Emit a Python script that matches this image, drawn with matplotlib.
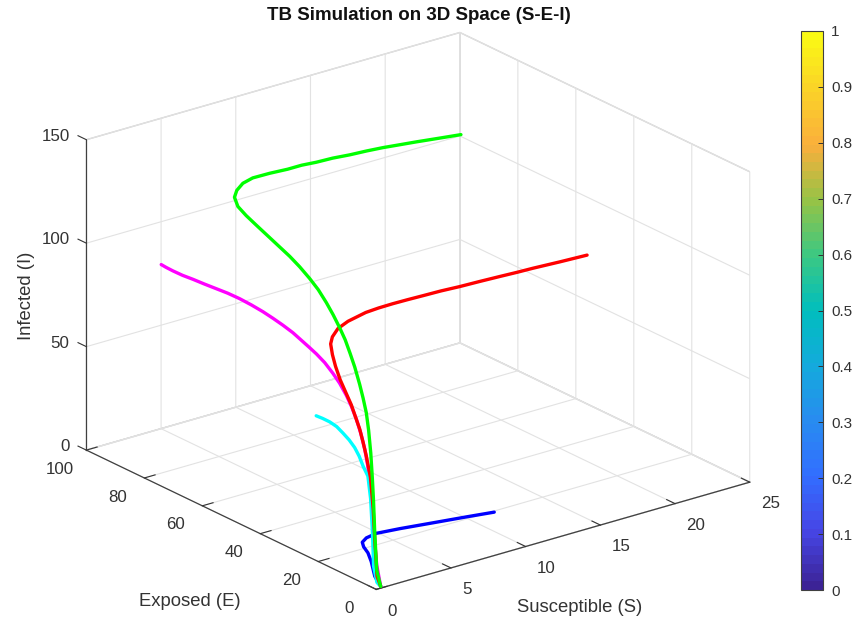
import matplotlib
matplotlib.use('Agg')
import matplotlib.pyplot as plt
from matplotlib.colors import LinearSegmentedColormap
from matplotlib.cm import ScalarMappable
from matplotlib.text import Text

plt.rcParams['font.family'] = ['Liberation Sans', 'DejaVu Sans']

S_green = [19.91,17.95,16.09,14.77,13.49,12.27,11.05,9.85,8.72,7.73,6.82,5.67,4.58,3.84,3.26,2.81,2.42,2.12,1.85,1.5,1.31,1.16,1.03,.97,.85,.8,.74,.68,.64,.62,.58,.56,.54,.52,.45,.4,.38,.29,.23,.3]
E_green = [73.4,70.9,69,68,67.2,66.6,66.1,65.8,65.6,65.6,65.7,66,66.2,65.8,64.9,63.4,60.2,55.8,50.9,43.5,36.6,32.4,28.3,25,21.6,19,16.4,14.2,12.3,10.6,8.7,7.4,6.2,5.3,4.2,3.4,2.9,2,1,0]
I_green = [129.1,133.1,136.5,138.5,140.3,141.6,142.6,143.7,144.2,144.8,144.7,144.9,144.8,144,142.4,141,139.5,138.7,137.9,136.3,133.6,131.7,129.1,126,122.3,118.3,113.8,109.6,104.4,99,92,86.2,80,72.2,62.1,50.6,40.3,25.2,8,.8]

S_red = [20.03,17.73,15.54,14.31,13.09,11.71,10.37,9.1,7.89,6.88,5.9,4.98,4.13,2.94,2.25,1.76,1.47,1.22,1.02,.83,.69,.6,.54,.49,.46,.42,.37,.32,.28,.25,.3]
E_red = [30.5,28,26,25.2,24.8,24.6,24.6,24.6,24.6,24.6,24.7,24.8,24.9,24.9,24.8,24.2,23.3,21.4,19.3,16.7,13.9,11.7,9.9,8.2,6.9,5.6,3.9,2.7,1.9,1,0]
I_red = [99.5,102.7,105.5,106.6,107.4,108,108.3,108.8,109,109.2,109.2,109,108.5,106.7,104.7,102.1,99.9,96.5,92.7,88.3,83.9,80.1,75.4,70.8,65.5,59.9,50.7,36.4,20.9,5.1,.8]

S_magenta = [4.97,4.37,3.79,3.21,2.74,2.34,1.96,1.65,1.33,1.15,.99,.82,.74,.63,.56,.53,.52,.51,.44,.44,.41,.4,.38,.36,.36,.34,.32,.26,.25,.3]
E_magenta = [99.8,95,89.7,83.4,77.4,71.3,65.3,59.8,54,49,44.2,39.9,36,32,28.2,25.7,23.3,20.4,17.2,14.9,12.4,10.6,8.8,7.2,5.8,4.7,3.7,2.4,1.1,0]
I_magenta = [79.5,82.6,85.7,89,92.1,94.7,97.3,99.5,101.4,102.1,102.4,102.5,101.9,101.2,99.6,98.4,97,94.8,91.9,88.7,84.5,80.4,75.5,69.9,63,56.1,47.1,28.7,10.3,.8]

S_cyan = [5.08,4.11,3.13,2.36,1.77,1.29,1,.76,.62,.47,.38,.31,.27,.24,.3]
E_cyan = [46.9,39.7,32.2,25.8,20.6,16,12.6,9.8,7.7,5.3,3.9,2.9,2.3,1,0]
I_cyan = [41.8,47.4,52.8,56.4,58,58.8,58,56.2,53,50.2,40.4,25,9.1,2.2,.8]

S_blue = [10.13,8.15,5.86,3.58,1.99,1.3,.91,.71,.55,.42,.31,.3]
E_blue = [11.5,10.8,10.6,10.3,10.2,10.1,9.5,8,5.7,3.9,2.1,0]
I_blue = [8.6,10.9,12.9,15,16.1,15.4,14.5,13.7,12.7,10,4.3,.8]

series = [(S_blue,E_blue,I_blue,'#0000ff'),(S_magenta,E_magenta,I_magenta,'#ff00ff'),
          (S_cyan,E_cyan,I_cyan,'#00ffff'),(S_red,E_red,I_red,'#ff0000'),(S_green,E_green,I_green,'#00ff00')]

x_ticks = [0,5,10,15,20,25]
y_ticks = [0,20,40,60,80,100]
z_ticks = [0,50,100,150]
cbar_ticks = [0,.1,.2,.3,.4,.5,.6,.7,.8,.9,1]
cbar_labels = ['0','0.1','0.2','0.3','0.4','0.5','0.6','0.7','0.8','0.9','1']
cmap_colors = ['#3c2396','#4646e6','#326eff','#288cf0','#14aadc','#00bebe','#3cc882','#96c346','#faaf3c','#fad228','#fafa14']

W,H = 852,620
side = 726
fig = plt.figure(figsize=(W/100,H/100),dpi=100)
ax = fig.add_axes([(408.25-side/2)/W,(H-320.75-side/2)/H,side/W,side/H],projection='3d',computed_zorder=False)
ax.set_proj_type('ortho')
ax.view_init(elev=21.8,azim=-127.7)
ax.set_box_aspect((471.5,473.4,333.9),zoom=1.0)
ax.set_xlim(0,25,view_margin=0); ax.set_ylim(0,100,view_margin=0); ax.set_zlim(0,150,view_margin=0)
ax.set_xticks(x_ticks); ax.set_yticks(y_ticks); ax.set_zticks(z_ticks)
for a in (ax.xaxis,ax.yaxis,ax.zaxis):
    a.set_pane_color((1,1,1,1))
    a.pane.set_edgecolor('#cfcfcf')
    a.line.set_color('#404040')
    a.line.set_linewidth(0.9)
    a._axinfo['grid'].update(color='#e2e2e2',linewidth=0.8)
    a._axinfo['tick'].update(inward_factor=0.0,outward_factor=0.36,color='#404040')
    a.set_rotate_label(False)
ax.zaxis._get_tickdir = lambda pos: 1
ax.tick_params(labelsize=12.2,colors='#333333',pad=2)
ax.xaxis.set_tick_params(pad=3)
ax.yaxis.set_tick_params(pad=10)
ax.zaxis.set_tick_params(pad=3)

ax.set_xlabel('Susceptible (S)',fontsize=13.3,color='#333333',rotation=0)
ax.set_ylabel('Exposed (E)',fontsize=13.3,color='#333333',rotation=0)
ax.set_zlabel('Infected (I)',fontsize=13.3,color='#333333',rotation=90)

for s,e,i,c in series:
    ax.plot(s,e,i,color=c,linewidth=2.4,solid_joinstyle='round',solid_capstyle='round')
fig.text(419/W,1-16/H,'TB Simulation on 3D Space (S-E-I)',ha='center',va='center',fontsize=13.5,fontweight='bold',color='#111111')

cmap = LinearSegmentedColormap.from_list('c',cmap_colors,N=64)
cax = fig.add_axes([801/W,1-590/H,22/W,559/H])
cb = fig.colorbar(ScalarMappable(cmap=cmap),cax=cax,ticks=cbar_ticks)
cb.ax.set_yticklabels(cbar_labels)
cb.ax.tick_params(direction='in',length=3.6,width=0.7,labelsize=11,colors='#333333',pad=6)
cb.outline.set_edgecolor('#404040'); cb.outline.set_linewidth(0.8)

fig.canvas.draw()
inv = ax.transData.inverted()
o = inv.transform((0,0)); one = inv.transform((1,1)); du,dv = one-o

def nudge(axis,dx,dy,**kw):
    for t in axis.get_major_ticks():
        lab = t.label1
        lab.set(**kw)
        def patched(p,lab=lab):
            Text.set_position(lab,(p[0]+dx*du,p[1]-dy*dv))
        lab.set_position = patched
nudge(ax.xaxis,-0.5,-4,ha='left')
nudge(ax.yaxis,-2,-16,ha='center')
nudge(ax.zaxis,10,-2,ha='right',va='center')

for lab,(px,py) in ((ax.xaxis.label,(580,608)),(ax.yaxis.label,(190,601)),(ax.zaxis.label,(26,296))):
    Text.set_position(lab,tuple(inv.transform((px,H-py))))
    lab.set_position = lambda p: None

fig.savefig('out.png',dpi=100)
